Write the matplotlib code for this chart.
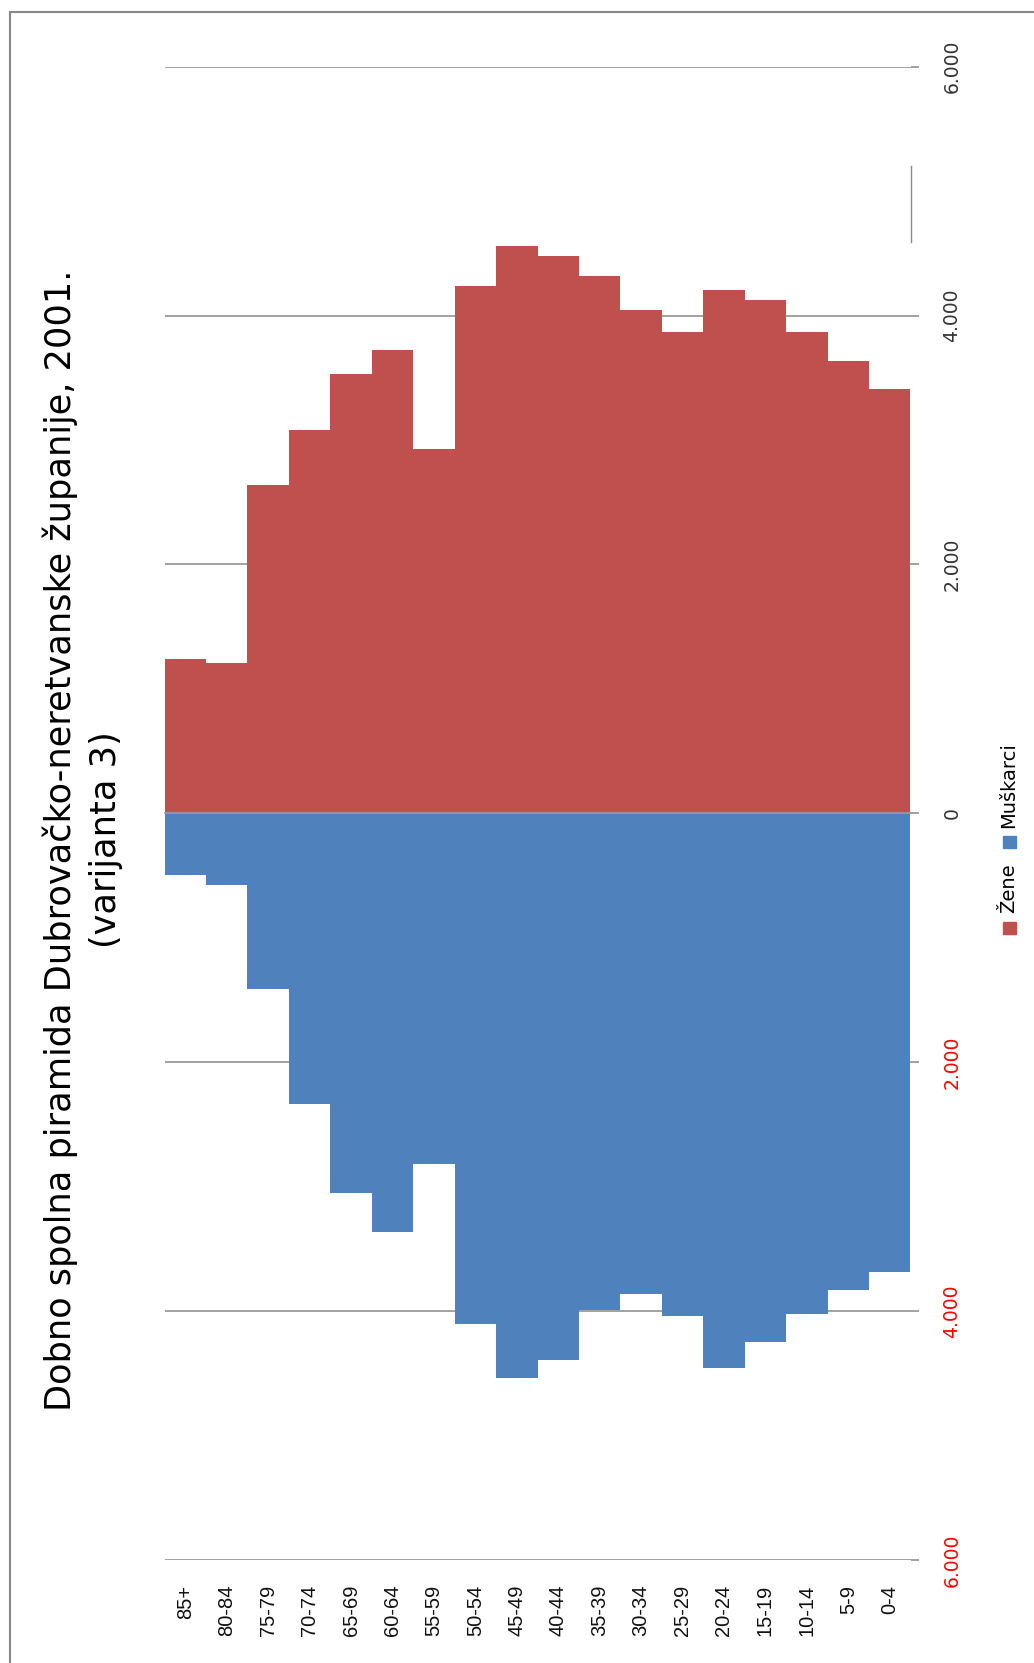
import matplotlib
matplotlib.use('Agg')
import matplotlib.pyplot as plt
import matplotlib.transforms as mtransforms
from matplotlib.patches import Rectangle
from matplotlib.lines import Line2D

plt.rcParams['font.family'] = ['DejaVu Sans']

# data: age groups (oldest on the left, as in the rotated chart)
ages = ['85+', '80-84', '75-79', '70-74', '65-69', '60-64', '55-59', '50-54', '45-49',
        '40-44', '35-39', '30-34', '25-29', '20-24', '15-19', '10-14', '5-9', '0-4']
zene = [1240, 1210, 2638, 3078, 3528, 3721, 2930, 4238, 4562,
        4481, 4318, 4045, 3868, 4205, 4125, 3868, 3637, 3410]
muskarci = [496, 576, 1415, 2334, 3054, 3362, 2816, 4101, 4541,
            4394, 3995, 3863, 4039, 4457, 4249, 4023, 3830, 3685]
value_ticks = [-6000, -4000, -2000, 0, 2000, 4000, 6000]
value_labels = ['6.000', '4.000', '2.000', '0', '2.000', '4.000', '6.000']

title_1 = 'Dobno spolna piramida Dubrovačko-neretvanske županije, 2001.'
title_2 = '(varijanta 3)'

RED = '#C0504D'
BLUE = '#4F81BD'
GRID = '#9A9A9A'

W, H = 1034, 1663
fig = plt.figure(figsize=(W / 100, H / 100), dpi=100)
fig.patch.set_facecolor('white')

# axes box in pixels (from top-left)
left_px, right_px, top_px, bot_px = 164.5, 910.5, 66.7, 1559.9
ax = fig.add_axes([left_px / W, 1 - bot_px / H, (right_px - left_px) / W, (bot_px - top_px) / H])

x = list(range(len(ages)))
ax.bar(x, zene, width=1.0, color=RED, zorder=2, label='Žene')
ax.bar(x, [-m for m in muskarci], width=1.0, color=BLUE, zorder=2, label='Muškarci')

ax.set_xlim(-0.5, len(ages) - 0.5)
ax.set_ylim(-6000, 6000)

# gridlines under the bars
for v in value_ticks:
    if v != 0:
        ax.axhline(v, color=GRID, lw=1.3, zorder=1)

for s in ['left', 'top', 'right']:
    ax.spines[s].set_visible(False)
ax.spines['bottom'].set_position(('data', 0))
ax.spines['bottom'].set_color(GRID)
ax.spines['bottom'].set_linewidth(1.3)
ax.spines['bottom'].set_zorder(3)

ax.set_xticks([])
ax.set_xticks([i + 0.5 for i in range(len(ages) - 1)], minor=True)
ax.tick_params(axis='x', which='minor', direction='out', length=6, width=1.2, color=GRID)

ax.yaxis.tick_right()
ax.set_yticks(value_ticks, value_labels)
ax.tick_params(axis='y', direction='out', length=6, width=1.3, color=GRID,
               labelrotation=90, labelsize=13.5, pad=17)
for v, lab in zip(value_ticks, ax.get_yticklabels()):
    lab.set_va('center')
    lab.set_color('#FF0000' if v < 0 else '#333333')

# age labels under the plot, rotated
blend = mtransforms.blended_transform_factory(ax.transData, fig.transFigure)
for i, a in enumerate(ages):
    ax.text(i, 1 - 1585 / H, a, transform=blend, rotation=90, ha='center', va='top',
            fontsize=14.5, color='#111111', family=['Liberation Sans', 'DejaVu Sans'])

# title, rotated, fitted to the reference length
t1 = fig.text(60 / W, 1 - 840 / H, title_1, rotation=90, ha='center', va='center', fontsize=24)
t2 = fig.text(106 / W, 1 - 840 / H, title_2, rotation=90, ha='center', va='center', fontsize=24)
fig.canvas.draw()
r = fig.canvas.get_renderer()
h1 = t1.get_window_extent(r).height
scale = 1141 / h1
t1.set_fontsize(24 * scale)
t2.set_fontsize(24 * scale)

# legend, rotated by hand
def fig_rect(x0, y0, w, h, color):
    fig.add_artist(Rectangle((x0 / W, 1 - (y0 + h) / H), w / W, h / H,
                             transform=fig.transFigure, color=color))

fig_rect(1003, 922, 13, 12, RED)
fig_rect(1003, 836, 13, 12, BLUE)
fig.text(1009 / W, 1 - 913 / H, 'Žene', rotation=90, ha='center', va='bottom', fontsize=14)
fig.text(1009 / W, 1 - 828 / H, 'Muškarci', rotation=90, ha='center', va='bottom', fontsize=14)

# outer frame (left and top edges) and the stray axis stub
fig.add_artist(Line2D([10 / W, 10 / W], [0, 1 - 12 / H], transform=fig.transFigure, color='#888888', lw=1.5))
fig.add_artist(Line2D([10 / W, 1], [1 - 12 / H, 1 - 12 / H], transform=fig.transFigure, color='#888888', lw=1.5))
fig.add_artist(Line2D([911 / W, 911 / W], [1 - 166 / H, 1 - 242 / H], transform=fig.transFigure, color='#888888', lw=1))

fig.savefig('out.png', dpi=100)
